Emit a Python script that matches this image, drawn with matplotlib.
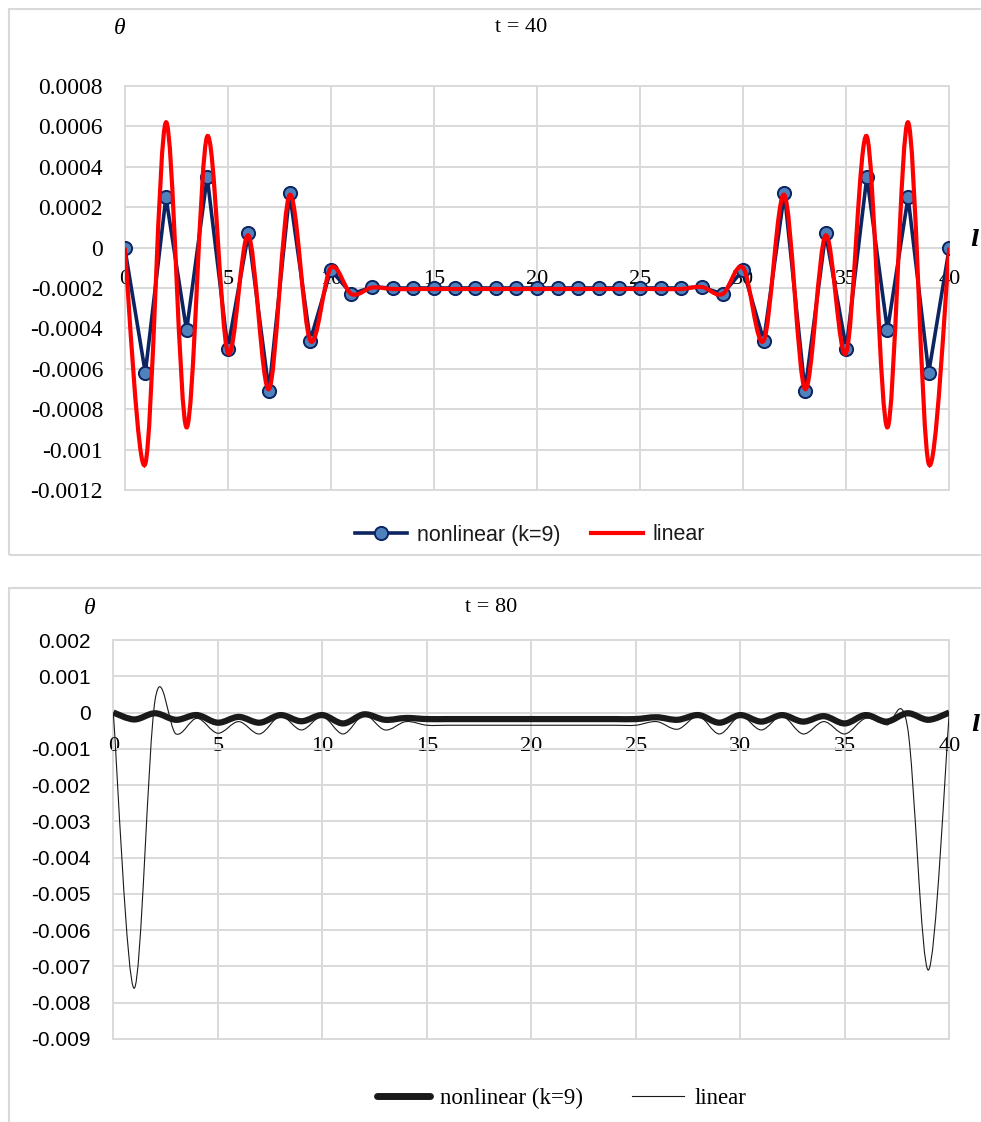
import numpy as np
import matplotlib
matplotlib.use("Agg")
import matplotlib.pyplot as plt
from matplotlib.path import Path
from matplotlib.patches import PathPatch, Rectangle
from matplotlib.lines import Line2D
import matplotlib.transforms as mtransforms

plt.rcParams['axes.unicode_minus'] = False

# ---- data ----
l_pos = list(range(41))

theta_nl_40 = [0, -0.00062, 0.00025, -0.00041, 0.00035, -0.00050, 0.00007, -0.00071,
               0.00027, -0.00046, -0.00011, -0.00023, -0.000195,
               -0.0002, -0.0002, -0.0002, -0.0002, -0.0002, -0.0002, -0.0002, -0.0002,
               -0.0002, -0.0002, -0.0002, -0.0002, -0.0002, -0.0002, -0.0002,
               -0.000195, -0.00023, -0.00011, -0.00046, 0.00027, -0.00071, 0.00007,
               -0.00050, 0.00035, -0.00041, 0.00025, -0.00062, 0]

theta_lin_40 = [0, -0.00107, 0.00062, -0.00089, 0.00055, -0.00052, 0.00006, -0.00070,
                0.00026, -0.00046, -0.00010, -0.00023, -0.000198,
                -0.000205, -0.000205, -0.000205, -0.000205, -0.000205, -0.000205, -0.000205,
                -0.000205, -0.000205, -0.000205, -0.000205, -0.000205, -0.000205, -0.000205,
                -0.000205,
                -0.000195, -0.00023, -0.00010, -0.00046, 0.00026, -0.00070, 0.00006,
                -0.00052, 0.00055, -0.00089, 0.00062, -0.00107, 0]

theta_nl_80 = [0, -0.00019, -0.00002, -0.00020, -0.00007, -0.00028, -0.00012, -0.00028,
               -0.00007, -0.00024, -0.00007, -0.00030, -0.00005, -0.00020, -0.00015,
               -0.00018, -0.00018, -0.00018, -0.00018, -0.00018, -0.00018, -0.00018,
               -0.00018, -0.00018, -0.00018, -0.00018,
               -0.00013, -0.00020, -0.00007, -0.00028, -0.00007, -0.00025, -0.00007,
               -0.00025, -0.00010, -0.00030, -0.00007, -0.00025, -0.00002, -0.00020, 0]

theta_lin_80 = [0, -0.0076, 0.00035, -0.00059, -0.00016, -0.00057, -0.00025, -0.00059,
                -0.00010, -0.00048, -0.00011, -0.00059, -0.00007, -0.00048, -0.00025,
                -0.00035, -0.00035, -0.00035, -0.00035, -0.00035, -0.00035, -0.00035,
                -0.00035, -0.00035, -0.00035, -0.00035,
                -0.00025, -0.00046, -0.00010, -0.00059, -0.00010, -0.00048, -0.00010,
                -0.00059, -0.00025, -0.00059, -0.00016, -0.00034, -0.0004, -0.0071, 0]

x_ticks = [0, 5, 10, 15, 20, 25, 30, 35, 40]
y_ticks_40 = [0.0008, 0.0006, 0.0004, 0.0002, 0, -0.0002, -0.0004, -0.0006, -0.0008,
              -0.001, -0.0012]
y_labels_40 = ['0.0008', '0.0006', '0.0004', '0.0002', '0', '-0.0002', '-0.0004',
               '-0.0006', '-0.0008', '-0.001', '-0.0012']
y_ticks_80 = [0.002, 0.001, 0, -0.001, -0.002, -0.003, -0.004, -0.005, -0.006, -0.007,
              -0.008, -0.009]
y_labels_80 = ['0.002', '0.001', '0', '-0.001', '-0.002', '-0.003', '-0.004', '-0.005',
               '-0.006', '-0.007', '-0.008', '-0.009']

GRID = '#d9d9d9'
NAVY = '#0c2461'
SERIF = 'Liberation Serif'
SANS = 'Liberation Sans'

W, H = 981, 1122


def smooth_path(x, y):
    # Excel-style smoothed line (Catmull-Rom as cubic Bezier)
    x = np.asarray(x, float)
    y = np.asarray(y, float)
    px = np.concatenate([[x[0]], x, [x[-1]]])
    py = np.concatenate([[y[0]], y, [y[-1]]])
    verts = [(x[0], y[0])]
    codes = [Path.MOVETO]
    for i in range(len(x) - 1):
        c1 = (px[i + 1] + (px[i + 2] - px[i]) / 6, py[i + 1] + (py[i + 2] - py[i]) / 6)
        c2 = (px[i + 2] - (px[i + 3] - px[i + 1]) / 6, py[i + 2] - (py[i + 3] - py[i + 1]) / 6)
        verts += [c1, c2, (px[i + 2], py[i + 2])]
        codes += [Path.CURVE4] * 3
    return Path(verts, codes)


def setup(ax, yticks, ylabels, ylim, yfont, yfs, ypad, xpad):
    ax.set_xlim(0, 40)
    ax.set_ylim(*ylim)
    ax.set_xticks(x_ticks)
    ax.set_xticklabels([str(v) for v in x_ticks])
    ax.set_yticks(yticks)
    ax.set_yticklabels(ylabels)
    for s in ['left', 'right', 'top']:
        ax.spines[s].set_visible(False)
    ax.spines['bottom'].set_position(('data', 0))
    ax.spines['bottom'].set_color(GRID)
    ax.spines['bottom'].set_linewidth(1.4)
    ax.grid(True, color=GRID, linewidth=1.4)
    ax.set_axisbelow(True)
    ax.tick_params(axis='both', length=0)
    ax.tick_params(axis='y', pad=ypad, labelsize=yfs, labelfontfamily=yfont)
    ax.tick_params(axis='x', pad=xpad, labelsize=16, labelfontfamily=SERIF)
    for gl in ax.get_xgridlines() + ax.get_ygridlines():
        gl.set_clip_on(False)


def fx(px):
    return px / W


def fy(py):
    return 1 - py / H


fig = plt.figure(figsize=(9.81, 11.22), dpi=100)

# chart area frames
fig.add_artist(Rectangle((fx(8.5), fy(555)), 1.2, fy(8.5) - fy(555), transform=fig.transFigure,
                         fill=False, edgecolor=GRID, linewidth=1.5))
fig.add_artist(Rectangle((fx(8.5), fy(1140)), 1.2, fy(588) - fy(1140), transform=fig.transFigure,
                         fill=False, edgecolor=GRID, linewidth=1.5))

# ---- t = 40 ----
ax1 = fig.add_axes([fx(124.7), fy(490), fx(949.3) - fx(124.7), fy(86) - fy(490)])
setup(ax1, y_ticks_40, y_labels_40, (-0.0012, 0.0008), SERIF, 17, 15.6, 15.8)
ax1.plot(l_pos, theta_nl_40, color=NAVY, linewidth=2.6, marker='o', markersize=9.5,
         markerfacecolor='#4f81bd', markeredgecolor=NAVY, markeredgewidth=1.4, zorder=3)
ax1.add_patch(PathPatch(smooth_path(l_pos, theta_lin_40), fill=False, edgecolor='#ff0000',
                        linewidth=3.0, zorder=4))
ax1.text(1.031, 0.00004, 'l', transform=mtransforms.blended_transform_factory(ax1.transAxes, ax1.transData),
         family='DejaVu Serif', style='italic', weight='bold', fontsize=16, ha='center', va='center')

fig.text(fx(120), fy(28), 'θ', family=SERIF, style='italic', fontsize=17, ha='center', va='center')
fig.text(fx(521), fy(28), 't = 40', family=SERIF, fontsize=16, ha='center', va='center')

h1 = [Line2D([], [], color=NAVY, linewidth=2.6, marker='o', markersize=9.5,
             markerfacecolor='#4f81bd', markeredgecolor=NAVY, markeredgewidth=1.4),
      Line2D([], [], color='#ff0000', linewidth=3.0)]
fig.legend(h1, ['nonlinear (k=9)', 'linear'], loc='center', bbox_to_anchor=(fx(530), fy(535)),
           ncol=2, frameon=False, prop={'family': SANS, 'size': 15.5}, handlelength=2.45,
           handletextpad=0.45, columnspacing=1.4, labelcolor='#1a1a1a')

# ---- t = 80 ----
ax2 = fig.add_axes([fx(113.3), fy(1039), fx(949.3) - fx(113.3), fy(640) - fy(1039)])
setup(ax2, y_ticks_80, y_labels_80, (-0.009, 0.002), SANS, 15, 16.5, 17.4)
ax2.add_patch(PathPatch(smooth_path(l_pos, theta_nl_80), fill=False, edgecolor='#1a1a1a',
                        linewidth=4.5, zorder=3))
ax2.add_patch(PathPatch(smooth_path(l_pos, theta_lin_80), fill=False, edgecolor='#1a1a1a',
                        linewidth=0.8, zorder=4))
ax2.text(1.031, -0.00035, 'l', transform=mtransforms.blended_transform_factory(ax2.transAxes, ax2.transData),
         family='DejaVu Serif', style='italic', weight='bold', fontsize=16, ha='center', va='center')

fig.text(fx(90), fy(608), 'θ', family=SERIF, style='italic', fontsize=17, ha='center', va='center')
fig.text(fx(491), fy(607), 't = 80', family=SERIF, fontsize=16, ha='center', va='center')

h2 = [Line2D([], [], color='#1a1a1a', linewidth=5, solid_capstyle='round'),
      Line2D([], [], color='#1a1a1a', linewidth=0.8)]
fig.legend(h2, ['nonlinear (k=9)', 'linear'], loc='center', bbox_to_anchor=(fx(562), fy(1098)),
           ncol=2, frameon=False, prop={'family': SERIF, 'size': 16.5}, handlelength=2.3,
           handletextpad=0.45, columnspacing=2.1)

fig.savefig('out.png', dpi=100)
